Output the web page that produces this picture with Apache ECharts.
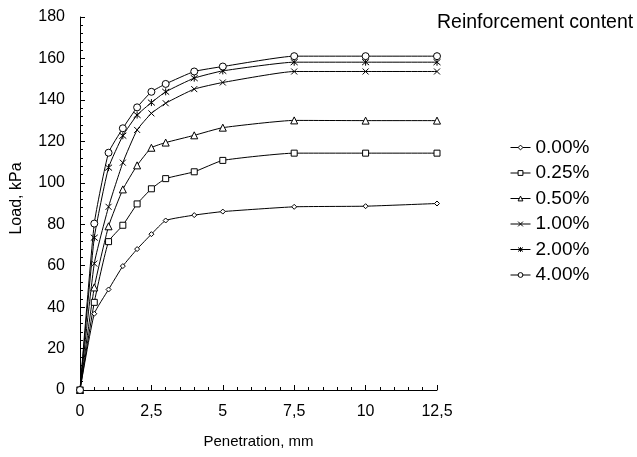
<!DOCTYPE html>
<html>
<head>
<meta charset="utf-8">
<script src="https://cdn.jsdelivr.net/npm/echarts@6/dist/echarts.min.js"></script>
<style>
html, body { margin: 0; padding: 0; background: #fff; }
#chart { width: 637px; height: 457px; }
</style>
</head>
<body>
<div id="chart"></div>
<script>
// 数据
const penetration = [0, 0.5, 1, 1.5, 2, 2.5, 3, 4, 5, 7.5, 10, 12.5];
const seriesNames = ['0.00%', '0.25%', '0.50%', '1.00%', '2.00%', '4.00%'];
const load000 = [0, 36.8, 48.5, 59.8, 68, 75.2, 81.8, 84.4, 86.1, 88.4, 88.7, 90];
const load025 = [0, 42.3, 71.6, 79.5, 89.8, 97.1, 102, 105.3, 110.8, 114.3, 114.3, 114.3];
const load050 = [0, 49.5, 79, 96.8, 108.4, 116.9, 119.4, 122.9, 126.6, 130.1, 130, 130];
const load100 = [0, 61, 88.4, 109.7, 125.5, 133.5, 138.4, 145.2, 148.4, 153.7, 153.7, 153.7];
const load200 = [0, 73.5, 107.3, 122.7, 132.7, 138.7, 143.9, 150.5, 154, 158.2, 158.2, 158.2];
const load400 = [0, 80.3, 114.5, 126.3, 136.4, 143.9, 147.7, 153.7, 156.1, 161.1, 161.1, 161.1];

const allLoads = [load000, load025, load050, load100, load200, load400];

// 标记形状
const crossPath = 'path://M0,0L10,10M10,0L0,10';
const starPath = 'path://M0,0L10,10M10,0L0,10M5,-1L5,11';
const symbols = ['diamond', 'rect', 'triangle', crossPath, starPath, 'circle'];
const symbolSizes = [5, 6, 7, 6, 7, 7];

const font = 'Liberation Sans, Arial, Helvetica, sans-serif';

let chart = echarts.init(document.getElementById('chart'));

let series = seriesNames.map(function (name, i) {
    return {
        name: name,
        type: 'line',
        smooth: 0.15,
        symbol: symbols[i],
        symbolSize: symbolSizes[i],
        showAllSymbol: true,
        lineStyle: {color: '#000', width: 1},
        itemStyle: {color: '#fff', borderColor: '#000', borderWidth: 1},
        emphasis: {disabled: true},
        data: penetration.map((x, j) => [x, allLoads[i][j]])
    };
});

let option = {
    animation: false,
    backgroundColor: '#fff',
    title: {
        text: 'Reinforcement content',
        left: 437,
        top: 13,
        padding: 0,
        textStyle: {fontFamily: font, fontSize: 19.5, fontWeight: 'normal', color: '#000'}
    },
    legend: {
        orient: 'vertical',
        left: 505,
        top: 133,
        itemWidth: 20,
        itemHeight: 6,
        itemGap: 6.5,
        itemStyle: {color: '#fff', borderColor: '#000', borderWidth: 1},
        lineStyle: {color: '#000', width: 1},
        textStyle: {fontFamily: font, fontSize: 19, color: '#000'},
        data: seriesNames
    },
    grid: {left: 80, right: 200, top: 17, bottom: 67, outerBoundsMode: 'none'},
    xAxis: {
        type: 'value',
        min: 0,
        max: 12.5,
        interval: 2.5,
        name: 'Penetration, mm',
        nameLocation: 'middle',
        nameGap: 44,
        nameTextStyle: {fontFamily: font, fontSize: 15, color: '#000'},
        axisLine: {lineStyle: {color: '#000', width: 1}},
        axisTick: {inside: true, length: 5, lineStyle: {color: '#000'}},
        minorTick: {show: true, splitNumber: 5, length: 3, lineStyle: {color: '#000'}},
        splitLine: {show: false},
        axisLabel: {
            fontFamily: font, fontSize: 16, color: '#000', margin: 14,
            formatter: v => String(v).replace('.', ',')
        }
    },
    yAxis: {
        type: 'value',
        min: 0,
        max: 180,
        interval: 20,
        name: 'Load, kPa',
        nameLocation: 'middle',
        nameGap: 55,
        nameTextStyle: {fontFamily: font, fontSize: 16, color: '#000', padding: [0, 0, 0, 10]},
        axisLine: {show: true, lineStyle: {color: '#000', width: 1}},
        axisTick: {show: true, inside: true, length: 5, lineStyle: {color: '#000'}},
        minorTick: {show: true, splitNumber: 5, length: 3, lineStyle: {color: '#000'}},
        splitLine: {show: false},
        axisLabel: {fontFamily: font, fontSize: 16, color: '#000', margin: 15}
    },
    series: series
};

chart.setOption(option);
</script>
</body>
</html>
